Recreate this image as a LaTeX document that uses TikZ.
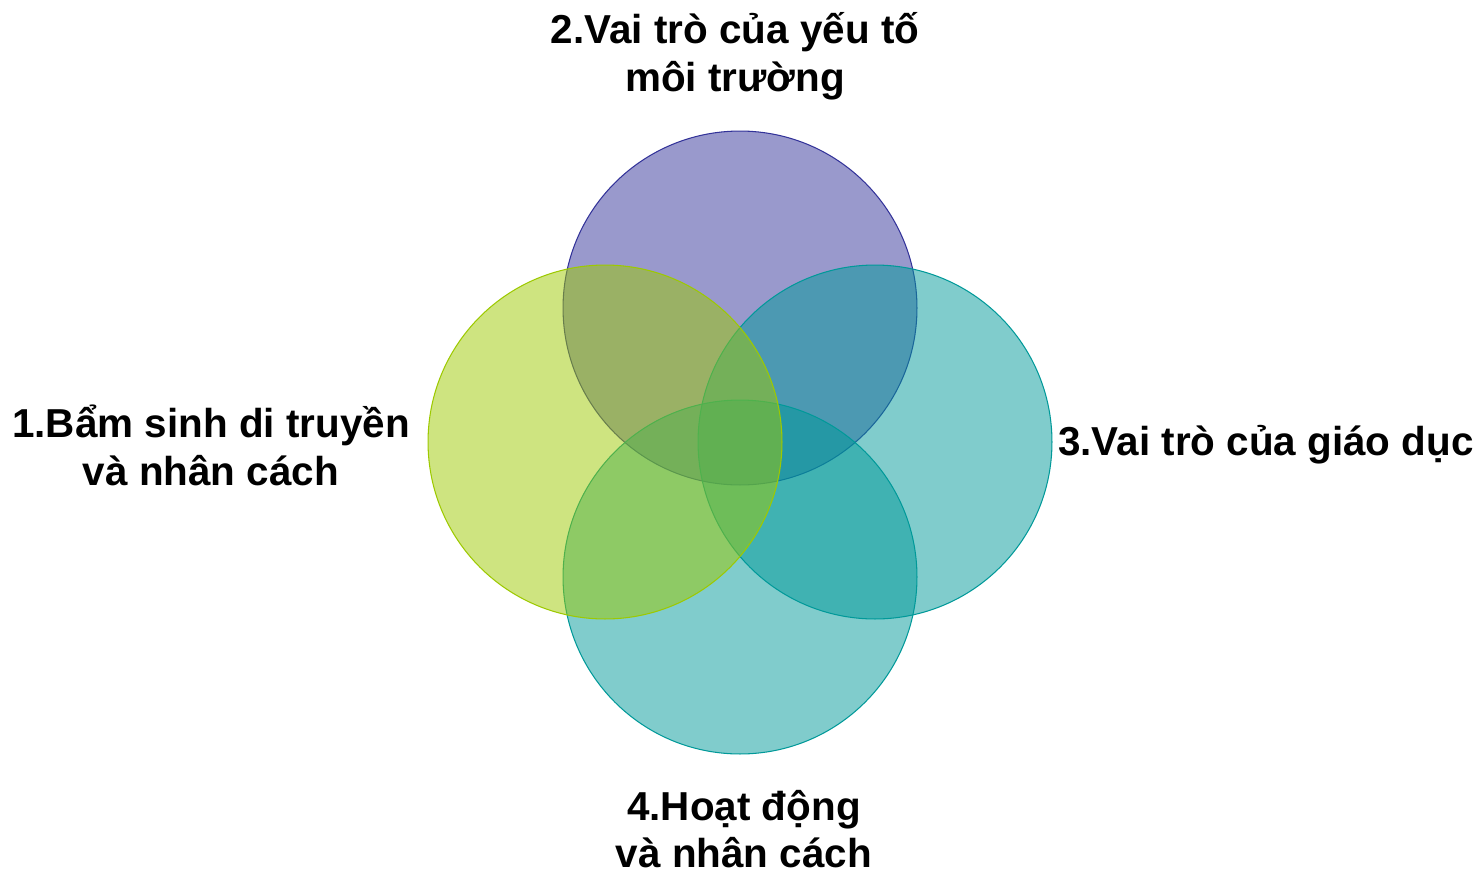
\documentclass[tikz,border=0pt]{standalone}
\usepackage{fontspec}
\setmainfont{Liberation Sans}
\usepackage{tikz}
\usetikzlibrary{positioning}

\definecolor{vpurple}{RGB}{51,51,153}
\definecolor{vgreen}{RGB}{157,201,1}
\definecolor{vteal}{RGB}{1,153,153}

\begin{document}
\begin{tikzpicture}[x=0.02cm,y=-0.02cm]
\tikzset{V/.style={circle,minimum size=7.08cm,inner sep=0pt,fill opacity=0.5,draw opacity=1,line width=0.6pt}}
\tikzset{L/.style={align=center,font=\fontsize{23}{27.2}\selectfont\bfseries}}

  \useasboundingbox (0,0) rectangle (1483,876);

  \node[V,fill=vpurple,draw=vpurple] (c2) at (740,308) {};
  \node[V,fill=vteal,draw=vteal]     (c4) at (740,577) {};
  \node[V,fill=vteal,draw=vteal]     (c3) at (875,442) {};
  \node[V,fill=vgreen,draw=vgreen]   (c1) at (605,442) {};

  \node[L] (t2) at (735,56)  {2.Vai trò của yếu tố\\môi trường};
  \node[L] (t1) at (211,445) {1.Bẩm sinh di truyền\\và nhân cách};
  \node[L,anchor=west] (t3) at (1052,445) {3.Vai trò của giáo dục};
  \node[L] (t4) at (744,829) {4.Hoạt động\\ và nhân cách};
\end{tikzpicture}
\end{document}
